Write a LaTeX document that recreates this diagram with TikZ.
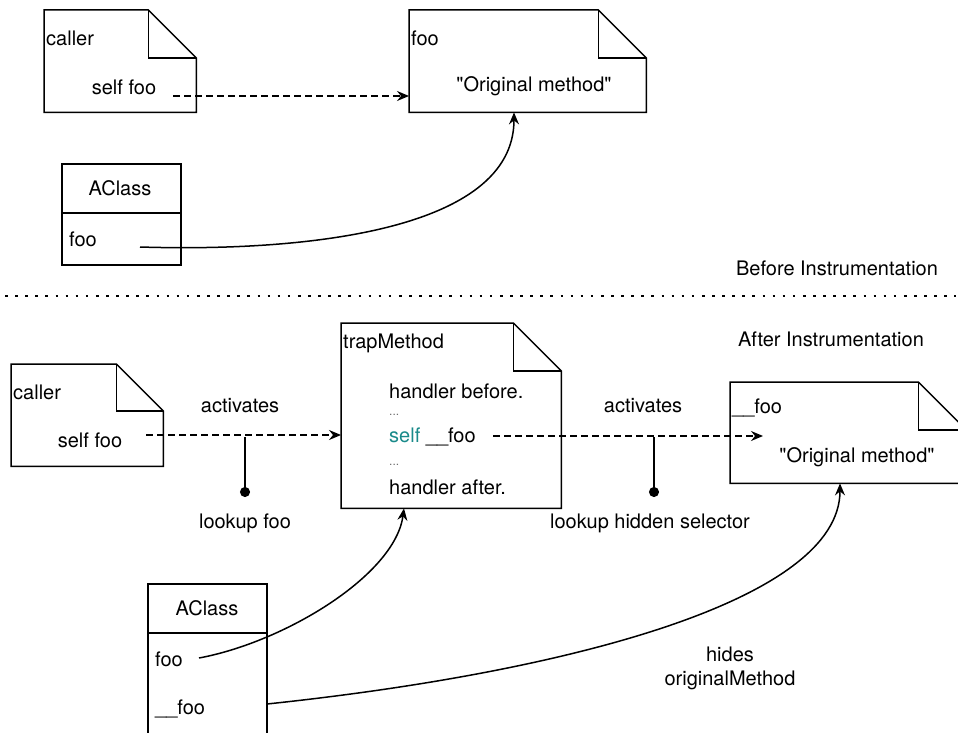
\documentclass[tikz,border=0pt]{standalone}
\usepackage{fontspec}
\setmainfont{TeX Gyre Heros}
\usetikzlibrary{arrows.meta}
\definecolor{tealtxt}{RGB}{26,138,138}
\definecolor{dotgray}{RGB}{110,110,110}
\tikzset{
  lbl/.style={inner sep=0pt, font=\fontsize{20}{23}\selectfont},
  lblw/.style={lbl, anchor=west},
  area/.style={draw=none, inner sep=0pt, anchor=north west},
  outline/.style={line width=1.5pt, line join=miter},
  conn/.style={line width=1.5pt, -{Stealth[length=12pt,width=10pt,inset=4pt]}},
  dconn/.style={conn, dash pattern=on 6.5pt off 4.5pt},
  pin/.style={line width=1.5pt, -{Circle[length=10pt]}},
  ellip/.style={inner sep=0pt, text=dotgray, font=\fontsize{12}{14}\selectfont, anchor=west},
}
\newcommand{\notedraw}[2]{%
  \draw[outline] (#1.south west) -- (#1.north west) -- ([xshift=-#2 pt]#1.north east)
    -- ([yshift=-#2 pt]#1.north east) -- (#1.south east) -- cycle;
  \draw[outline] ([xshift=-#2 pt]#1.north east) -- ([xshift=-#2 pt,yshift=-#2 pt]#1.north east)
    -- ([yshift=-#2 pt]#1.north east);
}
\begin{document}
\begin{tikzpicture}[x=1pt,y=-1pt]
\useasboundingbox (0,0) rectangle (958,733);
\clip (0,0) rectangle (958,733);

% ---------- Before ----------
\node[area, minimum width=152pt, minimum height=102pt] (callerA) at (44,10) {};
\notedraw{callerA}{48}
\node[lblw] (callerAt) at (46,38) {caller};
\node[lbl] (selfA) at (124,87) {self foo};

\node[area, minimum width=237pt, minimum height=102pt] (fooA) at (409,10) {};
\notedraw{fooA}{48}
\node[lblw] (fooAt) at (411,38) {foo};
\node[lbl] (origA) at (534,86) {\textquotedbl Original method\textquotedbl};

\node[area, draw, line width=1.5pt, minimum width=119pt, minimum height=101pt] (classA) at (61,163) {};
\draw[line width=1.5pt] (61,213) -- (180,213);
\node[lbl] (classAt) at (120,188) {AClass};
\node[lblw] (classAfoo) at (69,239) {foo};

\coordinate (sA) at (173,96);
\draw[dconn] (sA) -- (sA -| fooA.west);
\coordinate (cA) at (140,247);
\draw[conn] (cA) .. controls (300,252) and (514,232) .. (fooA.south -| 514,0);

\node[lbl] (before) at (837,268) {Before Instrumentation};
\coordinate (dl) at (5,296);
\coordinate (dr) at (956,296);
\draw[line width=2.6pt, dash pattern=on 2.6pt off 7.5pt] (dl) -- (dr);
\node[lbl] (after) at (831,339) {After Instrumentation};

% ---------- After ----------
\node[area, minimum width=152pt, minimum height=102pt] (callerB) at (11,364) {};
\notedraw{callerB}{47}
\node[lblw] (callerBt) at (13,392) {caller};
\node[lbl] (selfB) at (90,440) {self foo};

\node[area, minimum width=220pt, minimum height=185pt] (trap) at (341,323) {};
\notedraw{trap}{48}
\node[lblw] (trapt) at (343,343) {trapMethod};
\node[lblw] (hb) at (389,391) {handler before.};
\node[ellip] (e1) at (389,415) {...};
\node[lblw] (sf) at (389,437) {\textcolor{tealtxt}{self} \_\_foo};
\node[ellip] (e2) at (389,465) {...};
\node[lblw] (ha) at (389,487) {handler after.};

\node[area, minimum width=236pt, minimum height=101pt] (hid) at (730,382) {};
\notedraw{hid}{48}
\node[lblw] (hidt) at (732,408) {\_\_foo};
\node[lbl] (origB) at (857,457) {\textquotedbl Original method\textquotedbl};

\node[area, draw, line width=1.5pt, minimum width=119pt, minimum height=170pt] (classB) at (147,583) {};
\draw[line width=1.5pt] (147,633) -- (266,633);
\node[lbl] (classBt) at (207,608) {AClass};
\node[lblw] (classBfoo) at (155,659) {foo};
\node[lblw] (classBhid) at (155,709) {\_\_foo};

\coordinate (sB) at (146,435);
\draw[dconn] (sB) -- (sB -| trap.west);
\node[lbl] (act1) at (240,406) {activates};
\coordinate (p1) at (245,437);
\coordinate (d1) at (245,497);
\draw[pin] (p1) -- (d1);
\node[lbl] (lk1) at (245,523) {lookup foo};

\coordinate (sC) at (493,436);
\coordinate (eC) at (763,436);
\draw[dconn] (sC) -- (eC);
\node[lbl] (act2) at (643,406) {activates};
\coordinate (p2) at (654,437);
\coordinate (d2) at (654,497);
\draw[pin] (p2) -- (d2);
\node[lbl] (lk2) at (650,523) {lookup hidden selector};

\coordinate (cB) at (199,658);
\draw[conn] (cB) .. controls (285,642) and (395,575) .. (trap.south -| 404,0);
\coordinate (cC) at (267,704);
\draw[conn] (cC) .. controls (570,672) and (840,600) .. (hid.south -| 840,0);
\node[lbl] (hides) at (730,654) {hides};
\node[lbl] (om) at (730,680) {originalMethod};
\end{tikzpicture}
\end{document}
